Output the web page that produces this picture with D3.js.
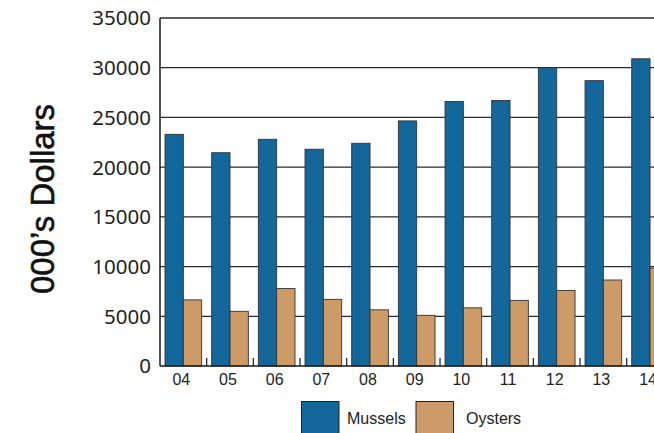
<!DOCTYPE html>
<html>
<head>
<meta charset="utf-8">
<script src="https://cdn.jsdelivr.net/npm/d3@7"></script>
<style>
  html, body { margin: 0; padding: 0; background: #fff; overflow: hidden; }
  svg { display: block; }
</style>
</head>
<body>
<svg id="chart" width="654" height="433"></svg>
<script>
const categories = ["04","05","06","07","08","09","10","11","12","13","14"];
const seriesNames = ["Mussels","Oysters"];
const mussels = [23300, 21450, 22800, 21800, 22400, 24650, 26600, 26700, 30000, 28700, 30900];
const oysters = [6650, 5500, 7800, 6700, 5650, 5100, 5850, 6600, 7600, 8650, 9850];
const yTicks = [0, 5000, 10000, 15000, 20000, 25000, 30000, 35000];
const colors = ["#13679B", "#CD9B67"];

(function () {
const svg = d3.select("#chart");
const plotLeft = 160, plotTop = 18, plotBottom = 366;
const groupW = 46.67;
const plotRight = plotLeft + categories.length * groupW;

const x0 = d3.scaleBand().domain(categories).range([plotLeft, plotRight]).padding(0);
const x1 = d3.scaleBand().domain(seriesNames).range([0, groupW]).paddingInner(0).paddingOuter(0.273);
const y = d3.scaleLinear().domain([0, 35000]).range([plotBottom, plotTop]);

// gridlines
svg.append("g").selectAll("line").data(yTicks.filter(d => d > 0)).join("line")
  .attr("x1", plotLeft).attr("x2", 660)
  .attr("y1", d => y(d)).attr("y2", d => y(d))
  .attr("stroke", "#2a2a2a").attr("stroke-width", 1.3);

// bars
const data = categories.map((c, i) => ({ cat: c, vals: [mussels[i], oysters[i]] }));
const g = svg.append("g").selectAll("g").data(data).join("g")
  .attr("transform", d => `translate(${x0(d.cat)},0)`);
g.selectAll("rect").data(d => d.vals.map((v, j) => ({ name: seriesNames[j], v, j }))).join("rect")
  .attr("x", d => x1(d.name))
  .attr("y", d => y(d.v))
  .attr("width", x1.bandwidth())
  .attr("height", d => y(0) - y(d.v))
  .attr("fill", d => colors[d.j])
  .attr("stroke", "#333").attr("stroke-width", 0.9);

// axes lines
svg.append("line").attr("x1", plotLeft).attr("x2", plotLeft).attr("y1", plotTop).attr("y2", plotBottom)
  .attr("stroke", "#1a1a1a").attr("stroke-width", 1.5);
svg.append("line").attr("x1", plotLeft).attr("x2", 660).attr("y1", plotBottom).attr("y2", plotBottom)
  .attr("stroke", "#1a1a1a").attr("stroke-width", 1.5);

// inner tick marks at group boundaries
svg.append("g").selectAll("line").data(categories.slice(1)).join("line")
  .attr("x1", d => x0(d)).attr("x2", d => x0(d))
  .attr("y1", plotBottom - 8).attr("y2", plotBottom)
  .attr("stroke", "#1a1a1a").attr("stroke-width", 1.2);

// y tick labels
svg.append("g").selectAll("text").data(yTicks).join("text")
  .attr("x", 151).attr("y", d => y(d)).attr("dy", "0.36em")
  .attr("text-anchor", "end")
  .attr("font-family", "Noto Sans, sans-serif").attr("font-size", 20.5)
  .attr("fill", "#1e1e1e")
  .text(d => d);

// x tick labels
svg.append("g").selectAll("text").data(categories).join("text")
  .attr("x", d => x0(d) + groupW / 2 - 2).attr("y", 385)
  .attr("text-anchor", "middle")
  .attr("font-family", "Liberation Sans, Arial, sans-serif").attr("font-size", 16)
  .attr("fill", "#222")
  .text(d => d);

// y title
svg.append("text")
  .attr("transform", "translate(53.5,199) rotate(-90)")
  .attr("text-anchor", "middle")
  .attr("font-family", "Liberation Sans, Arial, sans-serif").attr("font-size", 33)
  .attr("fill", "#111").attr("stroke", "#111").attr("stroke-width", 0.6)
  .text("000\u2019s Dollars");

// legend
const legendX = [301.5, 416];
const legend = svg.append("g").selectAll("g").data(seriesNames).join("g")
  .attr("transform", (d, i) => `translate(${legendX[i]},401.5)`);
legend.append("rect").attr("width", 37.5).attr("height", 34)
  .attr("fill", (d, i) => colors[i]).attr("stroke", "#222").attr("stroke-width", 1);
legend.append("text").attr("x", (d, i) => i === 0 ? 45.5 : 50).attr("y", 22)
  .attr("font-family", "Liberation Sans, Arial, sans-serif").attr("font-size", 16)
  .attr("fill", "#222")
  .text(d => d);
})();
</script>
</body>
</html>
